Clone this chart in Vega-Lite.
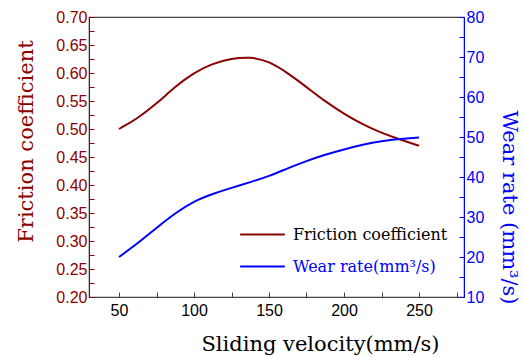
{
  "$schema": "https://vega.github.io/schema/vega-lite/v6.json",
  "width": 375,
  "height": 280,
  "autosize": "none",
  "padding": {"left": 89, "top": 17, "right": 60, "bottom": 61},
  "background": "white",
  "config": {
    "view": {"stroke": "#444", "strokeWidth": 1.2},
    "axis": {"grid": false, "labelFont": "Liberation Sans", "labelFontSize": 16, "titleFont": "DejaVu Serif", "titleFontSize": 21, "titleFontWeight": "normal"}
  },
  "data": {
    "values": [
      {"v": 50, "series": "Friction coefficient", "value": 0.500},
      {"v": 62.5, "series": "Friction coefficient", "value": 0.519},
      {"v": 75, "series": "Friction coefficient", "value": 0.545},
      {"v": 87.5, "series": "Friction coefficient", "value": 0.576},
      {"v": 100, "series": "Friction coefficient", "value": 0.601},
      {"v": 112.5, "series": "Friction coefficient", "value": 0.617},
      {"v": 125, "series": "Friction coefficient", "value": 0.626},
      {"v": 137.5, "series": "Friction coefficient", "value": 0.629},
      {"v": 150, "series": "Friction coefficient", "value": 0.621},
      {"v": 162.5, "series": "Friction coefficient", "value": 0.600},
      {"v": 175, "series": "Friction coefficient", "value": 0.575},
      {"v": 187.5, "series": "Friction coefficient", "value": 0.549},
      {"v": 200, "series": "Friction coefficient", "value": 0.527},
      {"v": 212.5, "series": "Friction coefficient", "value": 0.508},
      {"v": 225, "series": "Friction coefficient", "value": 0.493},
      {"v": 237.5, "series": "Friction coefficient", "value": 0.481},
      {"v": 250, "series": "Friction coefficient", "value": 0.470},
      {"v": 50, "series": "Wear rate(mm³/s)", "value": 20.0},
      {"v": 62.5, "series": "Wear rate(mm³/s)", "value": 23.4},
      {"v": 75, "series": "Wear rate(mm³/s)", "value": 27.3},
      {"v": 87.5, "series": "Wear rate(mm³/s)", "value": 31.0},
      {"v": 100, "series": "Wear rate(mm³/s)", "value": 34.0},
      {"v": 112.5, "series": "Wear rate(mm³/s)", "value": 35.8},
      {"v": 125, "series": "Wear rate(mm³/s)", "value": 37.3},
      {"v": 137.5, "series": "Wear rate(mm³/s)", "value": 38.7},
      {"v": 150, "series": "Wear rate(mm³/s)", "value": 40.2},
      {"v": 162.5, "series": "Wear rate(mm³/s)", "value": 42.2},
      {"v": 175, "series": "Wear rate(mm³/s)", "value": 44.0},
      {"v": 187.5, "series": "Wear rate(mm³/s)", "value": 45.6},
      {"v": 200, "series": "Wear rate(mm³/s)", "value": 46.9},
      {"v": 212.5, "series": "Wear rate(mm³/s)", "value": 48.1},
      {"v": 225, "series": "Wear rate(mm³/s)", "value": 49.0},
      {"v": 237.5, "series": "Wear rate(mm³/s)", "value": 49.5},
      {"v": 250, "series": "Wear rate(mm³/s)", "value": 49.9}
    ]
  },
  "encoding": {
    "x": {
      "field": "v", "type": "quantitative",
      "scale": {"domain": [30, 280], "nice": false, "zero": false},
      "axis": {
        "values": [50, 75, 100, 125, 150, 175, 200, 225, 250, 275],
        "labelExpr": "datum.value % 50 == 0 ? datum.value : ''",
        "domainColor": "#444", "tickColor": "#444", "labelColor": "black",
        "tickSize": -5, "labelPadding": 10,
        "title": "Sliding velocity(mm/s)", "titleColor": "black",
        "titleX": 231, "titleY": 53, "titleAlign": "center", "titleBaseline": "alphabetic"
      }
    },
    "color": {
      "field": "series", "type": "nominal",
      "scale": {"domain": ["Friction coefficient", "Wear rate(mm³/s)"], "range": ["#8B0000", "#0000FF"]},
      "legend": {
        "title": null, "orient": "none", "legendX": 150, "legendY": 194,
        "symbolType": "stroke", "symbolSize": 2000, "symbolStrokeWidth": 2,
        "labelFont": "DejaVu Serif", "labelFontSize": 16, "labelOffset": 7,
        "rowPadding": -20, "labelLimit": 300,
        "encode": {"labels": {"update": {"fill": {"signal": "datum.label == 'Friction coefficient' ? 'black' : '#0000FF'"}}}}
      }
    }
  },
  "layer": [
    {
      "transform": [{"filter": "datum.series == 'Friction coefficient'"}],
      "mark": {"type": "line", "interpolate": "basis", "strokeWidth": 2},
      "encoding": {
        "y": {
          "field": "value", "type": "quantitative",
          "scale": {"domain": [0.2, 0.7], "nice": false, "zero": false},
          "axis": {
            "orient": "left",
            "values": [0.2, 0.225, 0.25, 0.275, 0.3, 0.325, 0.35, 0.375, 0.4, 0.425, 0.45, 0.475, 0.5, 0.525, 0.55, 0.575, 0.6, 0.625, 0.65, 0.675, 0.7],
            "labelExpr": "abs(datum.value*20 - round(datum.value*20)) < 0.001 ? format(datum.value, '.2f') : ''",
            "domainColor": "#8B0000", "tickColor": "#8B0000", "labelColor": "#8B0000",
            "tickSize": -5, "labelPadding": 7,
            "title": "Friction coefficient", "titleColor": "#8B0000",
            "titleX": -57, "titleY": 124, "titleAlign": "center", "titleBaseline": "alphabetic", "titleAngle": -90
          }
        }
      }
    },
    {
      "transform": [{"filter": "datum.series != 'Friction coefficient'"}],
      "mark": {"type": "line", "interpolate": "basis", "strokeWidth": 2},
      "encoding": {
        "y": {
          "field": "value", "type": "quantitative",
          "scale": {"domain": [10, 80], "nice": false, "zero": false},
          "axis": {
            "orient": "right",
            "values": [10, 15, 20, 25, 30, 35, 40, 45, 50, 55, 60, 65, 70, 75, 80],
            "labelExpr": "datum.value % 10 == 0 ? datum.value : ''",
            "domainColor": "#0000FF", "tickColor": "#0000FF", "labelColor": "#0000FF",
            "tickSize": -5, "labelPadding": 7,
            "title": "Wear rate (mm³/s)", "titleColor": "#0000FF",
            "titleX": 38, "titleY": 190, "titleAlign": "center", "titleBaseline": "alphabetic", "titleAngle": 90
          }
        }
      }
    }
  ],
  "resolve": {"scale": {"y": "independent"}}
}
